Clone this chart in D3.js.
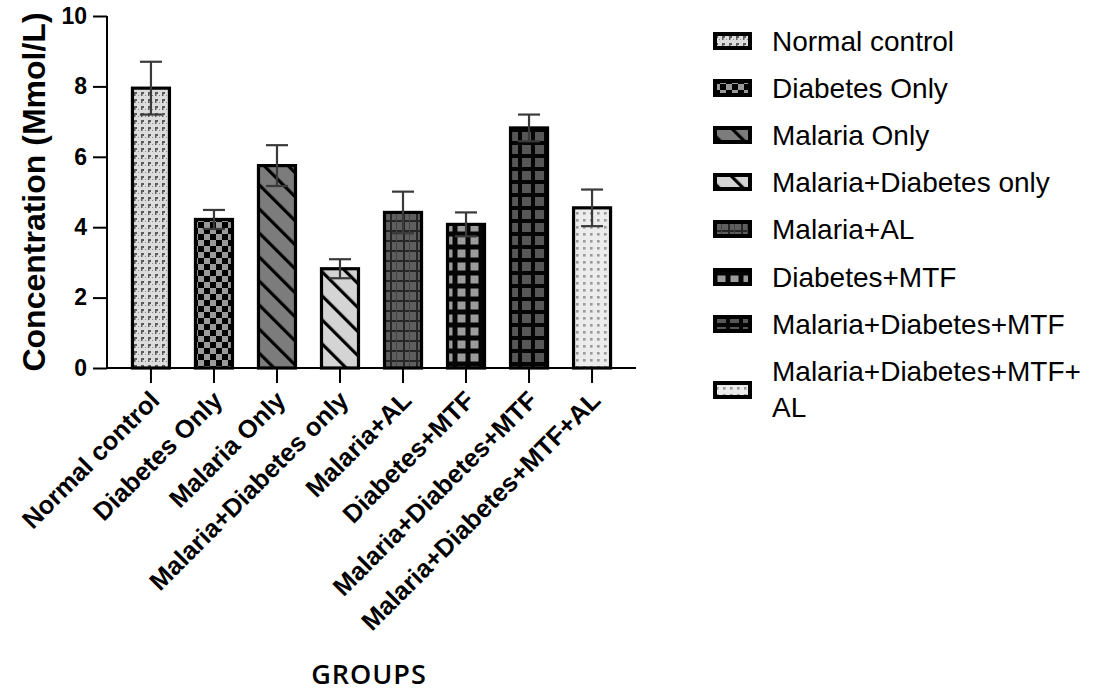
<!DOCTYPE html>
<html>
<head>
<meta charset="utf-8">
<script src="https://cdn.jsdelivr.net/npm/d3@7/dist/d3.min.js"></script>
<style>
  html, body { margin: 0; padding: 0; background: #fff; }
  svg { display: block; }
  text { font-family: "Liberation Sans", Arial, sans-serif; fill: #000; }
</style>
</head>
<body>
<svg id="chart" width="1095" height="691"></svg>
<script>
// Group names, means and SEM of concentration (Mmol/L)
const groups = [
  "Normal control",
  "Diabetes Only",
  "Malaria Only",
  "Malaria+Diabetes only",
  "Malaria+AL",
  "Diabetes+MTF",
  "Malaria+Diabetes+MTF",
  "Malaria+Diabetes+MTF+AL"
];
const means = [7.95, 4.22, 5.75, 2.82, 4.42, 4.08, 6.82, 4.55];
const sems  = [0.75, 0.27, 0.58, 0.27, 0.59, 0.34, 0.38, 0.52];
const yTicks = [0, 2, 4, 6, 8, 10];
// Legend wraps the last name over two lines
const legendLines = [
  ["Normal control"],
  ["Diabetes Only"],
  ["Malaria Only"],
  ["Malaria+Diabetes only"],
  ["Malaria+AL"],
  ["Diabetes+MTF"],
  ["Malaria+Diabetes+MTF"],
  ["Malaria+Diabetes+MTF+", "AL"]
];

const svg = d3.select("#chart");
const defs = svg.append("defs");

// ---- fill patterns, one per group ----
function pat(id, w, h, draw, transform) {
  const p = defs.append("pattern")
    .attr("id", id).attr("patternUnits", "userSpaceOnUse")
    .attr("width", w).attr("height", h);
  if (transform) p.attr("patternTransform", transform);
  draw(p);
}
// 0: light speckled texture
pat("p0", 7, 7, p => {
  p.append("rect").attr("width", 7).attr("height", 7).attr("fill", "#dcdcdc");
  p.append("rect").attr("x", 1).attr("y", 1).attr("width", 3).attr("height", 2).attr("fill", "#5a5a5a");
  p.append("rect").attr("x", 1).attr("y", 3).attr("width", 1.5).attr("height", 2).attr("fill", "#5a5a5a");
  p.append("rect").attr("x", 5).attr("y", 4).attr("width", 1).attr("height", 1).attr("fill", "#8a8a8a");
});
// 1: checkerboard
pat("p1", 12, 12, p => {
  p.append("rect").attr("width", 12).attr("height", 12).attr("fill", "#9a9a9a");
  p.append("rect").attr("width", 6).attr("height", 6).attr("fill", "#000");
  p.append("rect").attr("x", 6).attr("y", 6).attr("width", 6).attr("height", 6).attr("fill", "#000");
});
// 2: mid grey with diagonal stripes
pat("p2", 17, 17, p => {
  p.append("rect").attr("width", 17).attr("height", 17).attr("fill", "#7c7c7c");
  p.append("rect").attr("width", 3.2).attr("height", 17).attr("fill", "#000");
}, "rotate(-45)");
// 3: light grey with diagonal stripes
pat("p3", 17, 17, p => {
  p.append("rect").attr("width", 17).attr("height", 17).attr("fill", "#d4d4d4");
  p.append("rect").attr("width", 3.2).attr("height", 17).attr("fill", "#000");
}, "rotate(-45)");
// 4: dark plaid
pat("p4", 13, 10, p => {
  p.append("rect").attr("width", 13).attr("height", 10).attr("fill", "#5e5e5e");
  p.append("rect").attr("width", 13).attr("height", 2).attr("fill", "#262626");
  p.append("rect").attr("width", 2).attr("height", 10).attr("fill", "#262626");
  p.append("rect").attr("x", 6).attr("width", 1).attr("height", 10).attr("fill", "#444");
});
// 5: black grid with light grey squares
pat("p5", 13, 13, p => {
  p.append("rect").attr("width", 13).attr("height", 13).attr("fill", "#050505");
  p.append("rect").attr("x", 2.5).attr("y", 2.5).attr("width", 8).attr("height", 8).attr("fill", "#9c9c9c");
});
// 6: black grid with dark grey squares
pat("p6", 13, 13, p => {
  p.append("rect").attr("width", 13).attr("height", 13).attr("fill", "#050505");
  p.append("rect").attr("x", 2).attr("y", 2).attr("width", 9).attr("height", 9).attr("fill", "#575757");
});
// 7: very light with grey dots
pat("p7", 7, 7, p => {
  p.append("rect").attr("width", 7).attr("height", 7).attr("fill", "#ececec");
  p.append("rect").attr("x", 2).attr("y", 2).attr("width", 2.6).attr("height", 2.6).attr("fill", "#9a9a9a");
});

// ---- scales ----
const x = d3.scaleBand().domain(groups).range([107, 636])
  .paddingInner(0.365).paddingOuter(0.38);
const y = d3.scaleLinear().domain([0, 10]).range([368, 16]);

// ---- bars ----
const bw = x.bandwidth();
svg.append("g").selectAll("rect").data(groups).join("rect")
  .attr("x", d => x(d) + 1.5)
  .attr("y", (d, i) => y(means[i]))
  .attr("width", bw - 3)
  .attr("height", (d, i) => y(0) - y(means[i]))
  .attr("fill", (d, i) => `url(#p${i})`)
  .attr("stroke", "#000").attr("stroke-width", 3.2);

// ---- error bars (mean ± SEM) ----
const eb = svg.append("g").attr("stroke", "#3a3a3a").attr("stroke-width", 2.2).attr("fill", "none");
groups.forEach((g, i) => {
  const cx = x(g) + bw / 2;
  const hi = y(means[i] + sems[i]), lo = y(means[i] - sems[i]);
  eb.append("line").attr("x1", cx).attr("x2", cx).attr("y1", hi).attr("y2", lo);
  eb.append("line").attr("x1", cx - 11).attr("x2", cx + 11).attr("y1", hi).attr("y2", hi);
  eb.append("line").attr("x1", cx - 11).attr("x2", cx + 11).attr("y1", lo).attr("y2", lo);
});

// ---- y axis ----
const yAxis = svg.append("g").attr("transform", "translate(107,0)")
  .call(d3.axisLeft(y).tickValues(yTicks).tickSize(14).tickPadding(6).tickFormat(d3.format("d")));
yAxis.select(".domain").attr("stroke", "#000").attr("stroke-width", 2).attr("d", `M0,${y(10)}V${y(0)}`);
yAxis.selectAll(".tick line").attr("stroke", "#000").attr("stroke-width", 2);
yAxis.selectAll(".tick text")
  .attr("font-family", '"Liberation Sans", Arial, sans-serif')
  .attr("font-size", 23).attr("font-weight", "bold").attr("fill", "#000");

// ---- x axis ----
const xAxis = svg.append("g").attr("transform", `translate(0,${y(0)})`)
  .call(d3.axisBottom(x).tickSize(15).tickFormat(""));
xAxis.select(".domain").attr("stroke", "#000").attr("stroke-width", 2).attr("d", "M107,0H636");
xAxis.selectAll(".tick line").attr("stroke", "#000").attr("stroke-width", 2);

// rotated category labels
svg.append("g").selectAll("text").data(groups).join("text")
  .attr("transform", d => `translate(${x(d) + bw / 2 + 10},${y(0) + 34}) rotate(-45)`)
  .attr("text-anchor", "end")
  .attr("font-size", 25.5).attr("font-weight", "bold")
  .text(d => d);

// ---- axis titles ----
svg.append("text")
  .attr("transform", `translate(45,${(y(10) + y(0)) / 2}) rotate(-90)`)
  .attr("text-anchor", "middle")
  .attr("font-size", 32).attr("font-weight", "bold")
  .text("Concentration (Mmol/L)");

svg.append("text")
  .attr("x", 369).attr("y", 684)
  .attr("text-anchor", "middle")
  .style("font-family", '"Open Sans", sans-serif')
  .style("letter-spacing", "1px")
  .attr("font-size", 27).attr("font-weight", 600)
  .text("GROUPS");

// ---- legend ----
const legendY = [41, 88, 135, 182, 229, 277, 324, 390];
const lg = svg.append("g");
legendLines.forEach((lines, i) => {
  const cy = legendY[i];
  lg.append("rect")
    .attr("x", 715).attr("y", cy - 7).attr("width", 35).attr("height", 14)
    .attr("fill", `url(#p${i})`).attr("stroke", "#000").attr("stroke-width", 4);
  const t = lg.append("text").attr("x", 772).attr("font-size", 28);
  if (lines.length === 1) {
    t.attr("y", cy + 9.5).text(lines[0]);
  } else {
    t.append("tspan").attr("x", 772).attr("y", cy - 9).text(lines[0]);
    t.append("tspan").attr("x", 772).attr("y", cy + 27).text(lines[1]);
  }
});
</script>
</body>
</html>
